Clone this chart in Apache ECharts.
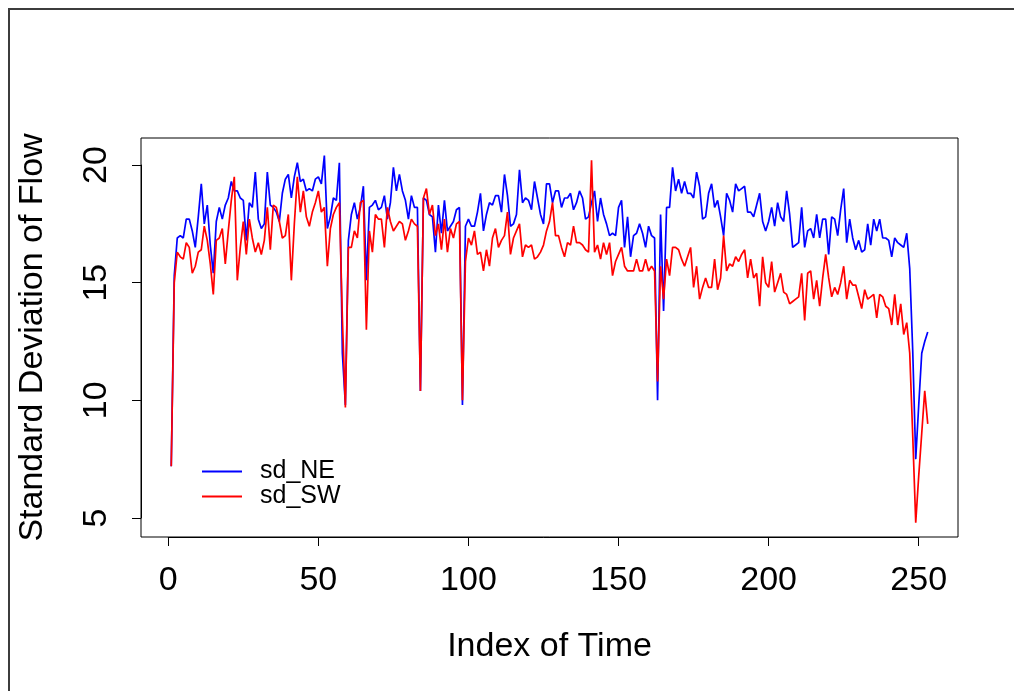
<!DOCTYPE html>
<html><head><meta charset="utf-8">
<script src="https://cdn.jsdelivr.net/npm/echarts@6/dist/echarts.min.js"></script>
<style>html,body{margin:0;padding:0;background:#fff}#c{width:1014px;height:691px}</style>
</head><body><div id="c"></div>
<script>
// ---- data (index 1..253) ----
const sdNE = [
 7.2,15.3,16.9,17.0,16.9,17.7,17.7,17.2,16.5,17.8,
 19.2,17.5,18.3,16.6,15.4,17.6,18.2,17.7,18.3,18.6,
 19.3,18.9,18.9,18.6,18.5,16.8,18.4,18.2,19.7,17.7,
 17.3,17.5,19.7,18.3,18.2,18.0,17.6,18.8,19.4,19.6,
 18.6,19.5,20.1,19.3,19.4,18.9,19.0,18.9,19.4,19.5,
 19.2,20.4,17.3,17.8,18.6,18.5,20.1,12.0,9.8,16.8,
 17.9,18.4,17.7,18.2,19.1,15.1,18.2,18.3,18.5,18.1,
 18.2,18.7,17.7,18.4,19.9,18.9,19.6,18.9,18.5,17.7,
 18.7,18.2,18.2,10.4,18.6,18.5,17.9,17.8,16.3,18.3,
 17.1,18.5,17.2,17.4,17.6,18.1,18.2,9.8,17.4,17.7,
 17.4,17.4,18.0,18.8,17.2,17.9,18.4,18.3,18.7,18.7,
 18.0,19.6,18.7,17.4,17.5,17.9,19.8,18.4,18.6,18.5,
 18.1,19.3,18.6,17.9,17.5,19.2,19.2,18.4,18.9,18.9,
 18.2,18.6,18.6,18.8,18.1,18.4,18.9,18.6,17.7,17.8,
 18.4,18.9,17.6,18.6,17.9,17.5,17.0,17.1,17.0,18.2,
 18.5,16.5,17.8,16.1,17.0,17.1,17.5,17.1,16.5,17.4,
 17.0,16.9,10.0,17.9,13.8,18.2,18.2,19.9,18.9,19.4,
 18.8,19.3,18.8,18.8,18.6,19.7,19.1,17.7,17.8,18.8,
 19.2,18.2,18.5,17.8,17.0,18.8,18.5,18.0,19.2,18.9,
 19.0,19.1,18.0,18.0,17.8,18.3,18.8,17.6,17.2,17.6,
 18.2,17.4,18.4,17.8,17.6,18.9,17.9,16.5,16.6,16.7,
 18.2,16.5,17.2,17.3,16.9,17.9,16.9,17.7,17.7,16.2,
 17.8,17.7,17.0,18.1,19.0,16.7,17.7,16.9,16.4,16.8,
 16.3,16.4,17.5,16.6,17.7,17.2,17.7,16.9,16.9,16.8,
 16.1,16.9,16.7,16.6,16.5,17.1,15.6,12.1,7.5,9.8,
 12.0,12.5,12.9
];
const sdSW = [
 7.2,15.0,16.3,16.1,16.0,16.7,16.5,15.4,15.7,16.3,
 16.4,17.4,16.8,15.8,14.5,16.8,16.9,17.3,15.8,17.2,
 18.5,19.5,15.1,16.5,17.6,16.2,17.7,16.9,16.3,16.7,
 16.2,16.8,18.2,16.4,18.3,18.2,17.6,16.9,17.0,17.9,
 15.1,17.5,19.5,18.0,18.9,17.8,17.4,18.0,18.4,18.9,
 18.0,18.2,15.7,17.3,17.9,18.2,18.4,13.5,9.7,16.5,
 16.5,17.2,16.9,18.4,18.5,13.0,17.2,16.3,17.9,17.7,
 17.7,16.5,18.2,17.6,17.2,17.4,17.6,17.5,16.8,17.2,
 17.7,17.5,17.4,10.4,18.6,19.0,17.9,18.3,17.0,17.5,
 16.4,17.7,16.3,17.3,16.9,17.5,17.6,10.0,15.9,16.9,
 16.6,17.2,16.2,16.3,15.5,16.4,15.7,16.9,17.3,16.5,
 16.8,17.0,18.0,16.2,16.9,17.2,17.5,16.1,16.6,16.5,
 16.6,16.0,16.1,16.3,16.6,17.2,17.6,18.4,17.0,17.0,
 16.5,16.1,16.7,16.6,17.4,16.7,16.7,16.6,16.4,16.3,
 20.2,16.3,16.6,16.0,16.7,16.2,16.7,15.3,15.9,16.2,
 16.5,15.7,15.5,15.5,15.5,16.0,15.5,15.5,16.0,15.5,
 15.7,15.5,10.8,15.7,14.3,16.0,15.3,16.5,16.5,16.4,
 16.0,15.7,16.1,16.5,14.8,15.7,14.3,14.8,15.2,14.8,
 14.8,16.0,14.7,15.2,17.0,15.5,15.8,15.7,16.1,15.9,
 16.2,16.4,15.2,16.0,15.2,15.4,14.0,16.1,15.0,14.8,
 15.9,14.6,15.0,15.4,14.6,14.5,14.1,14.2,14.3,14.4,
 15.4,13.4,15.4,15.5,14.3,15.1,14.0,15.2,16.2,15.2,
 14.4,14.8,14.5,15.0,15.7,14.3,15.1,14.9,14.9,14.4,
 13.9,14.7,14.3,14.4,14.5,13.5,14.5,14.4,14.0,13.9,
 13.2,14.5,13.2,14.1,12.8,13.3,12.0,8.5,4.8,6.8,
 8.6,10.4,9.0
];
const seriesNames = ['sd_NE', 'sd_SW'];
const xTickValues = [0, 50, 100, 150, 200, 250];
const yTickValues = [5, 10, 15, 20];
const xTitle = 'Index of Time';
const yTitle = 'Standard Deviation of Flow';

// ---- layout ----
const FONT = "'Liberation Sans', Arial, Helvetica, sans-serif";
const plot = {left: 141, top: 138, width: 817, height: 399};
const xMin = -9.08, xMax = 263.08, yMin = 4.19, yMax = 21.15;
const pxX = plot.width / (xMax - xMin), pxY = plot.height / (yMax - yMin);
const xt0 = xTickValues[0], xt1 = xTickValues[xTickValues.length - 1];
const yt0 = yTickValues[0], yt1 = yTickValues[yTickValues.length - 1];
const xStep = xTickValues[1] - xTickValues[0], yStep = yTickValues[1] - yTickValues[0];

const off = {show: false};
const chart = echarts.init(document.getElementById('c'), null, {renderer: 'canvas'});
chart.setOption({
  animation: false,
  backgroundColor: '#fff',
  textStyle: {fontFamily: FONT},
  graphic: [{
    type: 'rect', silent: true,
    shape: {x: 9, y: 9, width: 1200, height: 900},
    style: {fill: 'none', stroke: '#3c3c3c', lineWidth: 2}
  }],
  grid: [
    {left: plot.left, top: plot.top, width: plot.width, height: plot.height,
     show: true, borderColor: '#000', borderWidth: 1, backgroundColor: 'transparent'},
    {left: plot.left + (xt0 - xMin) * pxX, width: (xt1 - xt0) * pxX, top: plot.top, height: plot.height, show: false},
    {left: plot.left, width: plot.width, top: plot.top + (yMax - yt1) * pxY, height: (yt1 - yt0) * pxY, show: false}
  ],
  xAxis: [
    {type: 'value', gridIndex: 0, min: xMin, max: xMax,
     axisLine: off, axisTick: off, axisLabel: off, splitLine: off,
     name: xTitle, nameLocation: 'middle', nameGap: 93,
     nameTextStyle: {fontSize: 34, color: '#000', fontFamily: FONT}},
    {type: 'value', gridIndex: 1, min: xt0, max: xt1, interval: xStep, offset: 15,
     axisLine: {show: true, lineStyle: {color: '#000', width: 1}},
     axisTick: {show: true, length: 9, lineStyle: {color: '#000', width: 1}},
     axisLabel: {show: true, fontSize: 34, color: '#000', margin: 12, fontFamily: FONT},
     splitLine: off},
    {type: 'value', gridIndex: 2, show: false}
  ],
  yAxis: [
    {type: 'value', gridIndex: 0, min: yMin, max: yMax,
     axisLine: off, axisTick: off, axisLabel: off, splitLine: off,
     name: yTitle, nameLocation: 'middle', nameGap: 91, nameRotate: 90,
     nameTextStyle: {fontSize: 34, color: '#000', fontFamily: FONT}},
    {type: 'value', gridIndex: 1, show: false},
    {type: 'value', gridIndex: 2, min: yt0, max: yt1, interval: yStep, offset: 15,
     axisLine: {show: true, lineStyle: {color: '#000', width: 1}},
     axisTick: {show: true, length: 9, lineStyle: {color: '#000', width: 1}},
     axisLabel: {show: true, fontSize: 34, color: '#000', margin: 12, rotate: 90, fontFamily: FONT},
     splitLine: off}
  ],
  legend: {
    show: true, orient: 'vertical', left: 202, top: 459, padding: 0,
    icon: 'rect', itemWidth: 40, itemHeight: 2, itemGap: 0,
    textStyle: {fontSize: 25, color: '#000', fontFamily: FONT, lineHeight: 25, padding: [0, 0, 0, 13]},
    data: seriesNames
  },
  series: [
    {type: 'line', name: seriesNames[0], xAxisIndex: 0, yAxisIndex: 0,
     data: sdNE.map((v, i) => [i + 1, v]), symbol: 'none', showSymbol: false,
     lineStyle: {color: '#0000ff', width: 1.7}, itemStyle: {color: '#0000ff'}, silent: true},
    {type: 'line', name: seriesNames[1], xAxisIndex: 0, yAxisIndex: 0,
     data: sdSW.map((v, i) => [i + 1, v]), symbol: 'none', showSymbol: false,
     lineStyle: {color: '#ff0000', width: 1.7}, itemStyle: {color: '#ff0000'}, silent: true}
  ]
});
</script>
</body></html>
